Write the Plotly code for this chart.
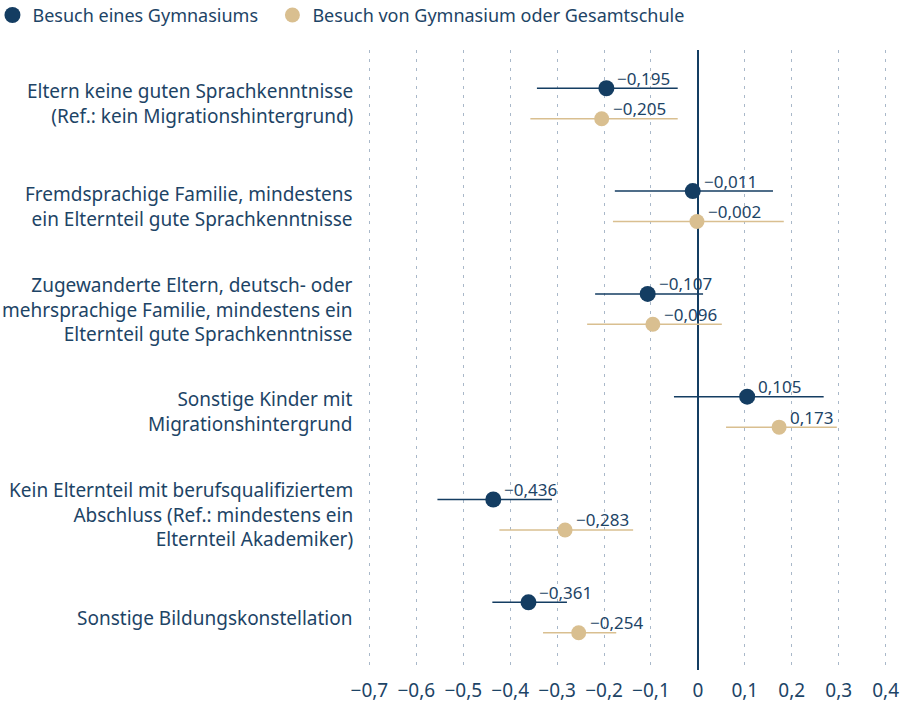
import plotly.graph_objects as go

categories = [
    "Eltern keine guten Sprachkenntnisse<br>(Ref.: kein Migrationshintergrund)",
    "Fremdsprachige Familie, mindestens<br>ein Elternteil gute Sprachkenntnisse",
    "Zugewanderte Eltern, deutsch- oder<br>mehrsprachige Familie, mindestens ein<br>Elternteil gute Sprachkenntnisse",
    "Sonstige Kinder mit<br>Migrationshintergrund",
    "Kein Elternteil mit berufsqualifiziertem<br>Abschluss (Ref.: mindestens ein<br>Elternteil Akademiker)",
    "Sonstige Bildungskonstellation",
]
gym_est = [-0.195, -0.011, -0.107, 0.105, -0.436, -0.361]
gym_lo = [-0.343, -0.177, -0.219, -0.051, -0.555, -0.438]
gym_hi = [-0.043, 0.160, 0.011, 0.268, -0.311, -0.279]
ges_est = [-0.205, -0.002, -0.096, 0.173, -0.283, -0.254]
ges_lo = [-0.357, -0.181, -0.236, 0.060, -0.423, -0.330]
ges_hi = [-0.043, 0.183, 0.051, 0.296, -0.138, -0.174]
x_ticks = [-0.7, -0.6, -0.5, -0.4, -0.3, -0.2, -0.1, 0, 0.1, 0.2, 0.3, 0.4]

NAVY = "#143d62"
TAN = "#d9bf90"
TEXT = "#1d4466"
FONT = "Noto Sans"


def fmt(v, nd=3):
    if v == 0:
        return "0"
    s = f"{abs(v):.{nd}f}".replace(".", ",")
    return ("\u2212" + s) if v < 0 else s


off = 0.148
fig = go.Figure()
series = [
    ("Besuch eines Gymnasiums\u00a0\u00a0", gym_est, gym_lo, gym_hi, NAVY, 16, -off),
    ("Besuch von Gymnasium oder Gesamtschule", ges_est, ges_lo, ges_hi, TAN, 15, off),
]
for name, est, lo, hi, col, size, dy in series:
    ys = [i + dy for i in range(len(categories))]
    for l, h, y in zip(lo, hi, ys):
        fig.add_trace(go.Scatter(x=[l, h], y=[y, y], mode="lines",
                                 line=dict(color=col, width=1.5),
                                 showlegend=False, hoverinfo="skip"))
    fig.add_trace(go.Scatter(x=est, y=ys, mode="markers", name=name,
                             marker=dict(color=col, size=size),
                             showlegend=True))
    for e, y in zip(est, ys):
        fig.add_annotation(x=e, y=y, xref="x", yref="y", text=fmt(e),
                           showarrow=False, xanchor="left", yanchor="middle",
                           xshift=9, yshift=10,
                           font=dict(family=FONT, size=17, color=TEXT))

for i, c in enumerate(categories):
    fig.add_annotation(xref="paper", x=0, xshift=-5, y=i, yref="y", text=c,
                       showarrow=False, xanchor="right", yanchor="middle", align="right",
                       font=dict(family=FONT, size=19, color=TEXT))

fig.update_layout(
    width=908, height=702,
    margin=dict(l=360, r=13, t=50, b=32, autoexpand=False),
    plot_bgcolor="white", paper_bgcolor="white",
    font=dict(family=FONT, color=TEXT),
    legend=dict(orientation="h", xref="paper", yref="paper",
                x=-0.687, xanchor="left", y=1.056, yanchor="middle",
                font=dict(family=FONT, size=18, color=TEXT),
                itemwidth=30, tracegroupgap=0, bgcolor="rgba(0,0,0,0)"),
    xaxis=dict(range=[-0.72, 0.42], tickvals=x_ticks,
               ticktext=[fmt(t, 1) for t in x_ticks],
               showgrid=True, gridcolor="#a9b8c9", griddash="3px,6px", gridwidth=1,
               zeroline=True, zerolinecolor=NAVY, zerolinewidth=1.5,
               showline=False, ticks="outside", ticklen=3, tickcolor="rgba(0,0,0,0)",
               tickfont=dict(family=FONT, size=19, color=TEXT)),
    yaxis=dict(range=[5.51, -0.52], showticklabels=False, showgrid=False,
               zeroline=False, showline=False),
    showlegend=True,
)
fig.write_html("out.html", config={"displayModeBar": False},
               post_script="document.body.style.margin='0';")
